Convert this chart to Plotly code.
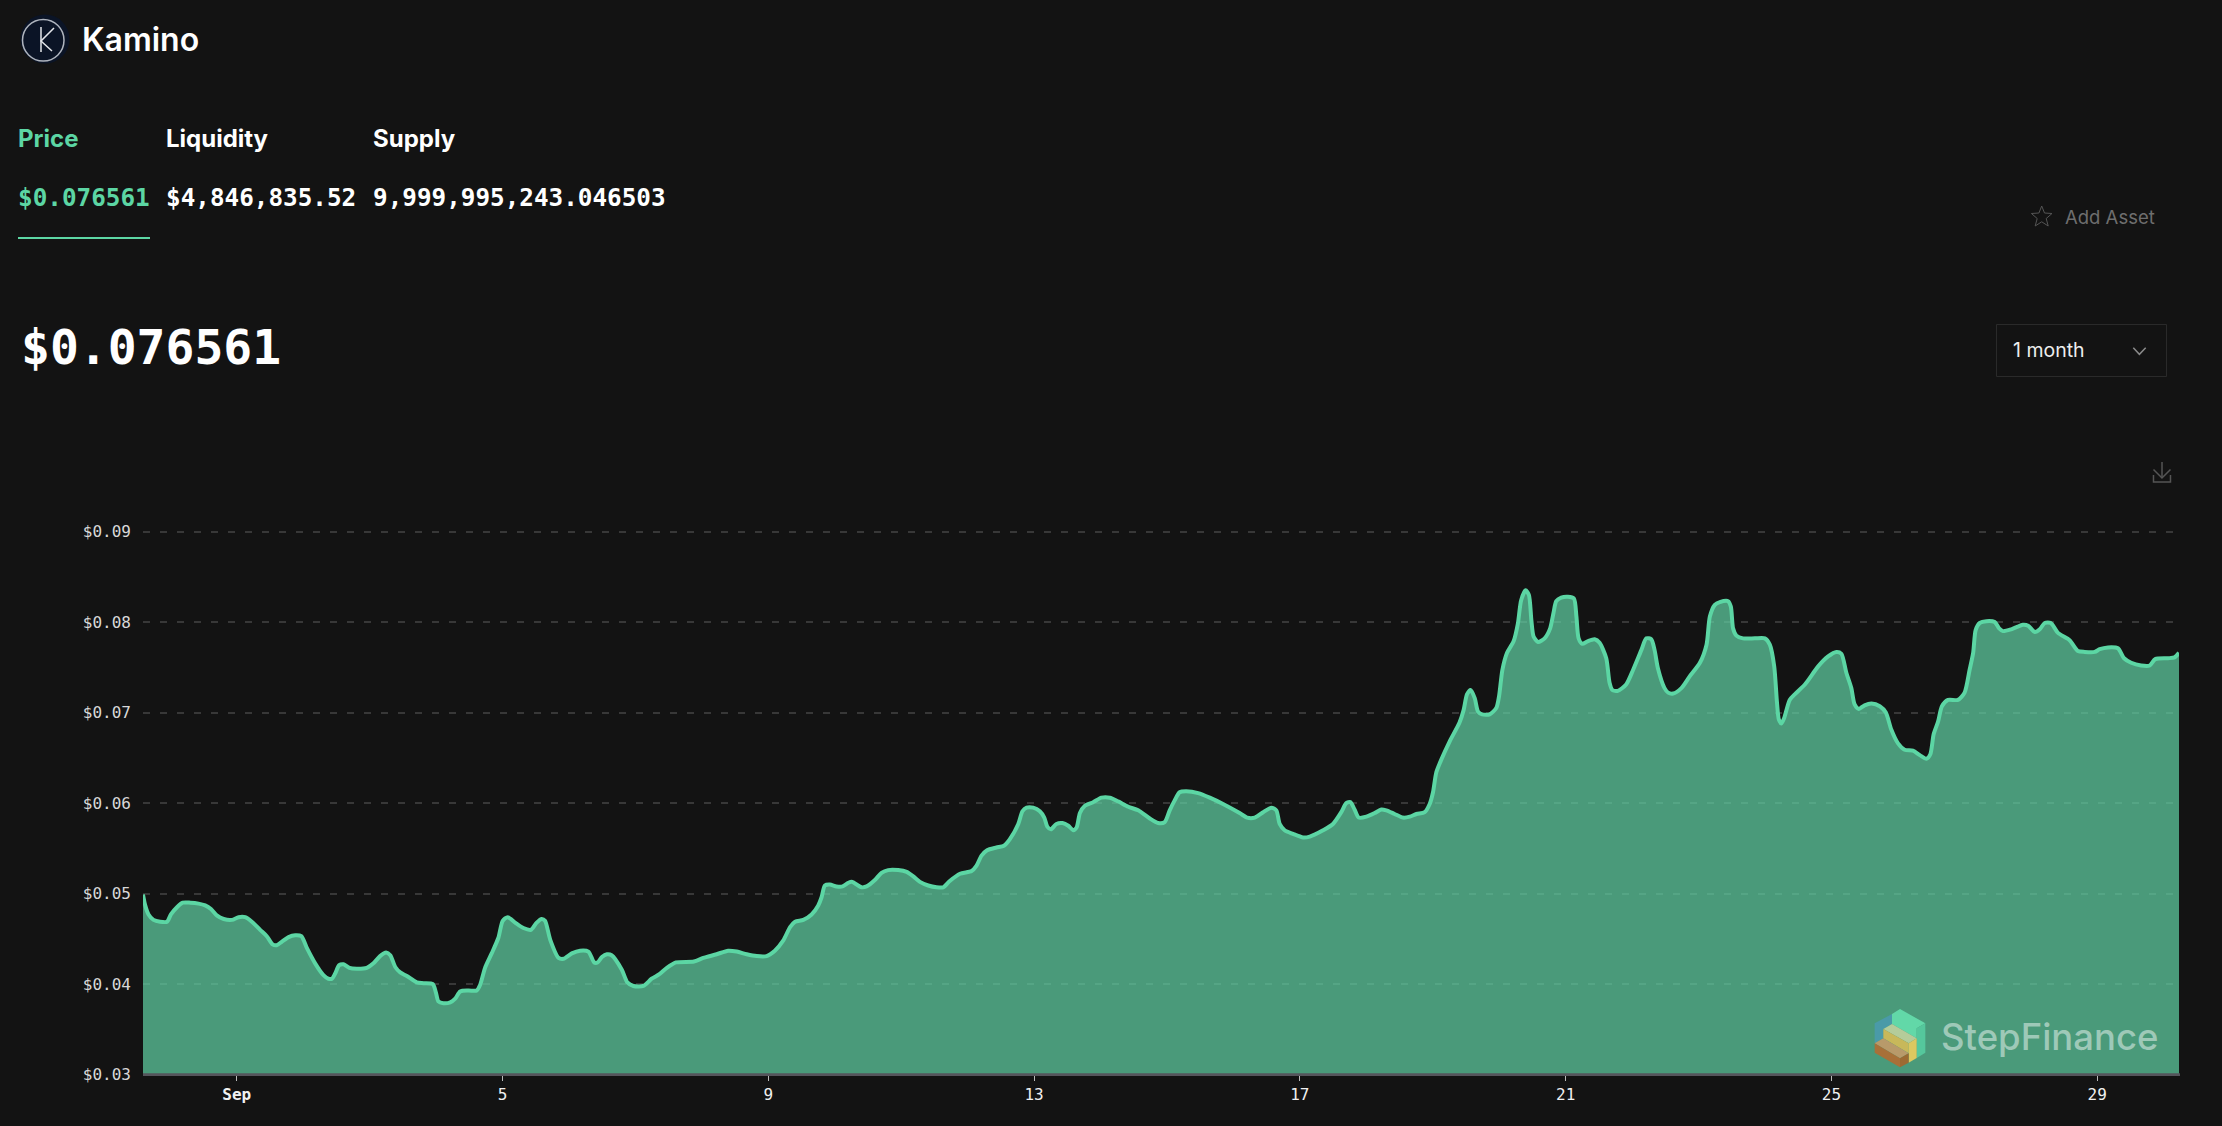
import pandas as pd
import plotly.graph_objects as go

W, H = 2222, 1126

# Kamino price: hours relative to 1 Sep 00:00 and USD price
hours = [
-34.1,-33.3,-32.1,-30.3,-27.9,-25.4,-24.0,-21.8,-19.7,-17.0,-14.0,-11.6,-9.5,-7.4,-4.9,-1.9,0.5,2.9,5.3,8.3,
10.7,12.8,14.3,16.2,18.6,21.0,23.2,25.2,28.2,31.2,33.0,34.3,35.5,36.9,38.5,40.6,43.3,46.9,49.3,51.7,
53.9,55.4,57.2,59.0,61.4,65.0,67.4,70.8,71.9,72.8,74.6,77.1,78.9,80.7,83.7,86.7,87.9,89.7,92.1,94.5,
96.1,97.9,100.6,103.6,106.3,108.4,110.2,111.4,113.3,116.3,118.1,121.1,124.1,127.1,129.2,130.4,132.0,133.8,135.5,139.2,
141.2,143.4,147.0,150.0,152.8,155.5,158.8,165.3,168.7,173.5,177.7,180.8,184.4,188.0,191.6,194.6,197.6,200.1,201.9,204.9,
207.9,210.3,211.5,212.7,214.5,216.9,219.1,221.2,222.6,224.2,226.0,227.8,230.8,233.2,235.6,239.2,242.3,244.7,247.1,250.1,
253.1,255.5,257.9,261.6,265.8,267.6,269.4,271.4,274.8,277.5,279.6,282.7,284.2,285.7,288.1,290.5,292.1,293.2,294.5,296.5,
298.7,300.8,302.6,303.8,305.0,306.8,309.8,312.8,315.8,318.8,322.5,326.1,330.3,333.3,335.7,337.5,339.3,341.1,343.5,347.8,
352.0,356.8,362.8,365.5,368.3,371.3,374.3,376.1,377.3,379.1,382.1,385.8,388.2,393.0,396.6,399.6,401.4,402.9,404.4,405.9,
408.7,411.7,414.1,415.9,418.9,421.9,424.4,426.8,429.8,431.6,432.8,434.0,435.8,438.8,442.4,443.9,445.1,446.4,447.9,449.1,
450.6,453.3,455.7,456.7,457.9,459.6,462.0,463.5,464.7,466.3,467.5,468.4,469.2,470.8,473.2,475.2,476.4,477.4,479.2,481.6,
483.8,484.7,485.5,486.8,488.9,491.3,493.1,495.5,496.7,497.7,499.7,502.7,505.2,508.2,510.0,511.8,513.0,514.2,516.6,517.9,
519.7,522.7,525.7,529.4,531.8,533.0,534.8,536.6,539.6,540.6,541.4,542.6,545.0,549.3,552.9,554.7,556.3,557.3,558.0,558.9,
559.9,561.9,564.0,567.4,572.2,575.8,578.8,580.6,582.4,584.2,585.4,586.9,589.0,591.5,594.5,596.7,598.7,601.1,603.5,606.5,
609.0,611.4,612.8,614.0,615.6,617.0,619.2,622.8,625.2,627.0,628.3,629.2,630.7,633.1,636.1,637.7,639.1,642.1,646.3,648.2,
650.6,652.4,654.2,656.4,659.0,663.2,666.2,668.7,672.3,674.1,677.1,680.7,682.9,685.5,689.1,692.2,694.2,698.8,701.2,702.8,
]
prices = [
.0499,.0487,.0477,.0471,.0469,.0469,.0477,.0485,.0490,.0490,.0489,.0487,.0483,.0476,.0472,.0471,.0474,.0474,.0469,.0460,
.0453,.0444,.0443,.0447,.0452,.0454,.0453,.0440,.0423,.0410,.0406,.0406,.0412,.0421,.0422,.0418,.0417,.0418,.0423,.0431,
.0435,.0432,.0419,.0413,.0409,.0402,.0401,.0400,.0391,.0381,.0379,.0380,.0384,.0392,.0393,.0393,.0399,.0418,.0434,.0451,
.0470,.0474,.0468,.0462,.0460,.0468,.0472,.0470,.0449,.0429,.0428,.0434,.0437,.0436,.0424,.0424,.0430,.0433,.0432,.0416,
.0402,.0398,.0398,.0406,.0411,.0418,.0424,.0425,.0429,.0433,.0437,.0436,.0433,.0431,.0431,.0437,.0448,.0463,.0469,.0471,
.0477,.0487,.0496,.0509,.0510,.0508,.0508,.0512,.0513,.0510,.0507,.0508,.0515,.0523,.0526,.0526,.0524,.0519,.0513,.0509,
.0507,.0507,.0514,.0522,.0525,.0531,.0542,.0548,.0551,.0553,.0560,.0577,.0591,.0595,.0595,.0591,.0584,.0574,.0571,.0577,
.0578,.0575,.0570,.0573,.0589,.0597,.0601,.0606,.0606,.0602,.0596,.0592,.0583,.0578,.0579,.0592,.0603,.0612,.0613,.0611,
.0606,.0599,.0589,.0584,.0584,.0590,.0595,.0592,.0577,.0570,.0566,.0562,.0563,.0570,.0577,.0590,.0600,.0601,.0593,.0584,
.0585,.0589,.0593,.0592,.0588,.0584,.0585,.0588,.0590,.0599,.0612,.0634,.0648,.0668,.0689,.0703,.0720,.0725,.0716,.0701,
.0698,.0698,.0705,.0718,.0747,.0766,.0779,.0798,.0824,.0835,.0830,.0802,.0784,.0778,.0782,.0793,.0810,.0823,.0827,.0828,
.0826,.0806,.0782,.0776,.0779,.0781,.0777,.0760,.0733,.0725,.0724,.0731,.0747,.0769,.0782,.0781,.0769,.0749,.0727,.0722,
.0721,.0727,.0740,.0755,.0775,.0806,.0819,.0822,.0823,.0817,.0793,.0785,.0782,.0782,.0782,.0775,.0751,.0711,.0692,.0688,
.0694,.0714,.0721,.0731,.0751,.0762,.0767,.0765,.0744,.0727,.0709,.0704,.0708,.0710,.0707,.0700,.0681,.0666,.0659,.0658,
.0653,.0649,.0654,.0676,.0690,.0707,.0714,.0714,.0722,.0747,.0766,.0791,.0799,.0801,.0800,.0793,.0790,.0792,.0797,.0796,
.0789,.0792,.0799,.0799,.0788,.0780,.0768,.0767,.0767,.0770,.0772,.0771,.0760,.0755,.0752,.0752,.0759,.0760,.0761,.0766,
]
y_ticks = [0.03, 0.04, 0.05, 0.06, 0.07, 0.08, 0.09]
x_tick_dates = ["2024-09-01", "2024-09-05", "2024-09-09", "2024-09-13", "2024-09-17",
                "2024-09-21", "2024-09-25", "2024-09-29"]
x_tick_labels = ["<b>Sep</b>", "5", "9", "13", "17", "21", "25", "29"]

metric_names = ["Price", "Liquidity", "Supply"]
metric_values = ["$0.076561", "$4,846,835.52", "9,999,995,243.046503"]

GREEN = "#5CD6A4"
BG = "#131313"
SANS = "Inter, 'Noto Sans', sans-serif"
MONO = "'DejaVu Sans Mono', monospace"

# the hour readings were taken at 66.33 px/day; the ticks sit 66.47 px/day apart
dates = pd.Timestamp("2024-09-01") + pd.to_timedelta([h * 0.99795 + 0.18 for h in hours], unit="h")

fig = go.Figure(go.Scatter(
    x=dates, y=prices, mode="lines",
    line=dict(color=GREEN, width=4, shape="spline", smoothing=0.7),
    fill="tozeroy", fillcolor="rgba(99,212,166,0.7)", hoverinfo="skip",
))


def X(px):
    return px / W


def Y(px):
    return 1 - px / H


def P(points, close=True):
    body = " L".join(f"{X(a):.5f},{Y(b):.5f}" for a, b in points)
    return "M" + body + (" Z" if close else "")


def label(text, x, y, size, color="#FFFFFF", family=SANS, weight=400, anchor="left"):
    fig.add_annotation(text=text, x=X(x), y=Y(y), xref="paper", yref="paper", showarrow=False,
                       xanchor=anchor, yanchor="middle", borderpad=0, borderwidth=0,
                       font=dict(size=size, color=color, family=family, weight=weight))


def poly(points, fill=None, line=None, width=1, close=True):
    fig.add_shape(type="path", path=P(points, close), xref="paper", yref="paper",
                  fillcolor=fill if fill else "rgba(0,0,0,0)",
                  line=dict(color=line if line else "rgba(0,0,0,0)", width=width if line else 0))


# header
fig.add_shape(type="circle", xref="paper", yref="paper", x0=X(20.5), x1=X(69.5), y0=Y(63.5), y1=Y(14.5),
              fillcolor="#0B1426", line=dict(width=0))
fig.add_shape(type="circle", xref="paper", yref="paper", x0=X(22.5), x1=X(64), y0=Y(61), y1=Y(19.5),
              fillcolor="rgba(0,0,0,0)", line=dict(color="#AEB4BE", width=1.5))
poly([(41, 27), (41, 52)], line="#E4E6EA", width=1.5, close=False)
poly([(54, 28), (41, 41), (52, 51)], line="#E4E6EA", width=1.5, close=False)
label("Kamino", 82, 40, 32, weight=600)

for name, value, xp, col in zip(metric_names, metric_values, [18, 166, 373], [GREEN, "#FFFFFF", "#FFFFFF"]):
    label(name, xp, 138, 24, color=col, weight=700)
    label(value, xp, 197, 24.3, color=col, family=MONO, weight=700)
fig.add_shape(type="rect", xref="paper", yref="paper", x0=X(18), x1=X(150), y0=Y(239), y1=Y(237),
              fillcolor=GREEN, line=dict(width=0))
label("$0.076561", 21, 347, 48, family=MONO, weight=700)

# right hand controls
star = [(2041.7, 206), (2044.5, 213), (2052, 213.5), (2046.2, 218.5), (2048.2, 226), (2041.7, 221.8),
        (2035.2, 226), (2037.2, 218.5), (2031.4, 213.5), (2038.9, 213)]
poly(star, line="#555555", width=1)
label("Add Asset", 2065, 217, 18.5, color="#6E6E6E")
fig.add_shape(type="rect", xref="paper", yref="paper", x0=X(1996.5), x1=X(2166.5), y0=Y(376.5), y1=Y(324.5),
              fillcolor="rgba(0,0,0,0)", line=dict(color="#2A2A2A", width=1))
label("1 month", 2013, 350, 19.5, color="#EDEDED")
poly([(2133.3, 347.7), (2139.4, 354.3), (2145.7, 347.7)], line="#8A8A8A", width=1.5, close=False)
poly([(2162, 462), (2162, 478)], line="#555555", width=1.5, close=False)
poly([(2153.5, 469.5), (2162, 478), (2170.5, 469.5)], line="#555555", width=1.5, close=False)
poly([(2153.5, 475), (2153.5, 482), (2170.5, 482), (2170.5, 475)], line="#555555", width=1.5, close=False)


# watermark logo, drawn in the 3x crop's coordinates
def wm(points):
    return [(1800 + a / 3, 960 + b / 3) for a, b in points]


poly(wm([(224, 190), (276, 162), (276, 192), (250, 207), (250, 235), (224, 250)]), fill="#4A9AA8")
poly(wm([(276, 162), (300, 147), (376, 190), (350, 205), (350, 235), (276, 192)]), fill="#62D8A8")
poly(wm([(350, 205), (376, 190), (376, 278), (350, 294)]), fill="#55C79C")
poly(wm([(250, 207), (276, 192), (350, 235), (326, 250)]), fill="#B4CC9A")
poly(wm([(250, 207), (326, 250), (326, 280), (250, 235)]), fill="#C8B85A")
poly(wm([(326, 250), (350, 235), (350, 294), (326, 308)]), fill="#DCC860")
poly(wm([(224, 250), (250, 235), (326, 280), (300, 295)]), fill="#B89A6A")
poly(wm([(224, 250), (300, 295), (300, 322), (224, 278)]), fill="#A87038")
poly(wm([(300, 295), (326, 280), (326, 308), (300, 322)]), fill="#9C6A32")
label("StepFinance", 1941, 1037, 36.5, color="rgba(255,255,255,0.47)", weight=500)

# axis baseline
fig.add_shape(type="rect", xref="paper", yref="paper", x0=X(143), x1=X(2180), y0=Y(1076), y1=Y(1073.3),
              fillcolor="#55555C", line=dict(width=0))

fig.update_layout(
    width=W, height=H, margin=dict(l=0, r=0, t=0, b=0, pad=0, autoexpand=False),
    paper_bgcolor=BG, plot_bgcolor=BG, showlegend=False,
    xaxis=dict(
        type="date", domain=[143 / W, 2179 / W], range=[dates[0], dates[-1]],
        tickmode="array", tickvals=x_tick_dates, ticktext=x_tick_labels,
        showgrid=False, zeroline=False, ticks="outside", ticklen=5, tickwidth=1, tickcolor="#BBBBBB",
        showline=False,
        tickfont=dict(size=16, color="#F0F0F0", family=MONO),
    ),
    yaxis=dict(
        domain=[1 - 1074.7 / H, 1 - 528.8 / H], range=[0.03, 0.0903], tickmode="array", tickvals=y_ticks,
        tickformat="$.2f", showgrid=True, gridcolor="#383838", gridwidth=1.5, griddash="7px,10px",
        zeroline=False, showline=False, ticks="", ticklabelstandoff=11,
        tickfont=dict(size=16, color="#D8D8D8", family=MONO),
    ),
)

fig.write_html("out.html", config=dict(displayModeBar=False),
               post_script="document.body.style.margin='0';document.body.style.overflow='hidden';")
